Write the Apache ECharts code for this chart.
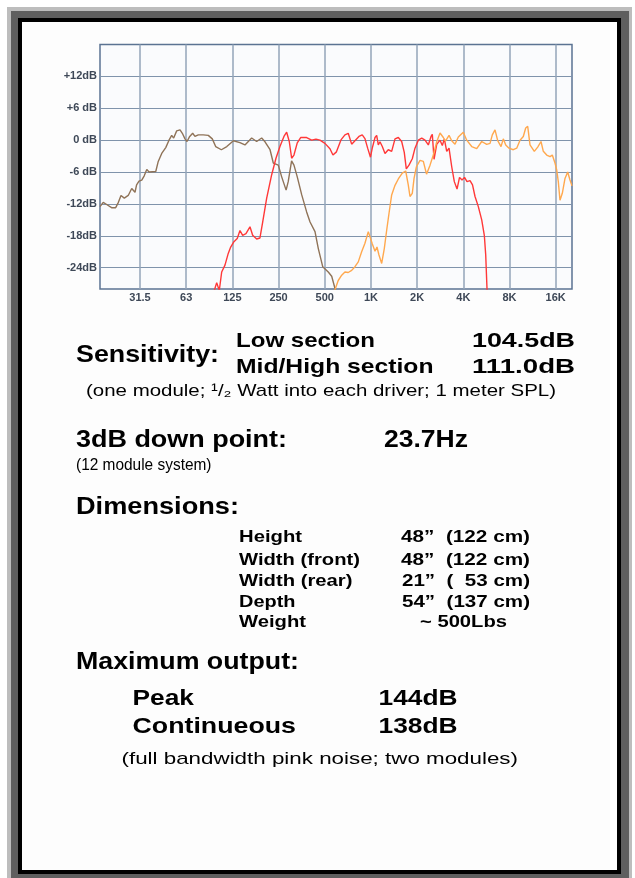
<!DOCTYPE html>
<html>
<head>
<meta charset="utf-8">
<script src="https://cdn.jsdelivr.net/npm/echarts@6/dist/echarts.min.js"></script>
<style>
html,body{margin:0;padding:0;background:#ffffff;}
#c{width:635px;height:878px;}
</style>
</head>
<body>
<div id="c"></div>
<script>
// ---------- chart data ----------
const freqTicks = [31.25, 62.5, 125, 250, 500, 1000, 2000, 4000, 8000, 16000];
const freqTickLabels = ['31.5', '63', '125', '250', '500', '1K', '2K', '4K', '8K', '16K'];
const dbTicks = [-24, -18, -12, -6, 0, 6, 12];
const dbTickLabels = ['-24dB', '-18dB', '-12dB', '-6 dB', '0 dB', '+6 dB', '+12dB'];

// Low section (brown)
const lowFreq = [17.15, 18.0, 18.95, 20.4, 21.7, 22.6, 23.5, 24.7, 26.2, 27.6, 29.0, 29.7, 30.8, 32.1, 33.3, 34.6, 35.8, 39.6, 41.1, 43.3, 46.0, 48.3, 50.3, 51.8, 54.2, 57.0, 59.0, 61.4, 63.3, 65.9, 68.9, 71.3, 75.0, 80.8, 87.1, 92.5, 97.3, 106, 115, 127, 140, 151, 167, 180, 194, 204, 220, 231, 249, 262, 280, 289, 304, 315, 331, 354, 381, 401, 432, 454, 485, 527, 555, 583, 600];
const lowDb = [-12.5, -11.7, -12.1, -12.7, -12.7, -11.7, -10.4, -10.9, -10.4, -9.1, -9.8, -8.4, -7.7, -7.5, -6.7, -5.5, -6.0, -5.9, -4.0, -2.5, -1.4, 0.0, 0.9, 0.4, 1.75, 1.95, 1.3, 0.25, -0.25, 0.7, 1.3, 0.7, 1.0, 1.0, 0.9, 0.25, -1.2, -1.8, -1.2, -0.1, -0.45, -0.9, 0.4, -0.25, 0.4, -0.3, -1.8, -4.3, -4.7, -6.9, -9.4, -7.8, -3.9, -4.7, -6.9, -10.3, -13.5, -15.4, -17.2, -20.4, -23.8, -24.8, -25.6, -27.9, -29.5];

// Mid section (red)
const midFreq = [94.8, 98.8, 102.7, 106.5, 111.9, 117.5, 121.9, 128.0, 134.5, 140.1, 145.9, 153.3, 162.8, 169.5, 180.0, 189.1, 197.0, 209.2, 225.5, 240.5, 255.3, 271.1, 282.3, 293.6, 304.3, 315.0, 331.0, 348.3, 381.1, 410.8, 438.2, 465.3, 501.5, 540.6, 565.5, 596.0, 637.6, 677.0, 711.4, 748.7, 795.0, 835.4, 877.7, 914.2, 952.0, 993, 1020, 1063, 1090, 1117, 1145, 1186, 1235, 1297, 1365, 1435, 1508, 1586, 1649, 1700, 1770, 1860, 1937, 2036, 2143, 2252, 2366, 2464, 2512, 2578, 2684, 2820, 2919, 3008, 3118, 3228, 3361, 3495, 3640, 3779, 3923, 4073, 4228, 4423, 4592, 4768, 5010, 5272, 5482, 5598, 5725];
const midDb = [-28.5, -26.8, -28.3, -24.8, -23.5, -21.3, -20.1, -19.1, -18.5, -17.0, -17.9, -17.6, -16.3, -17.9, -18.6, -18.4, -15.4, -10.9, -6.5, -3.4, -1.2, 0.7, 1.5, -0.25, -3.4, -2.8, -0.5, 0.5, 0.5, 0.0, 0.2, 0.0, -0.6, -1.6, -2.8, -2.2, 0.05, 1.0, 1.3, -0.75, 0.05, 0.7, 1.0, 0.3, -1.5, -3.2, -1.5, 0.5, 0.9, -0.9, -0.3, -1.2, -2.5, -1.8, -2.1, 0.25, 0.5, -0.25, -2.3, -5.4, -4.7, -3.5, -1.5, 0, 0.4, 0, -0.9, 0.7, 1.1, -3.6, -0.8, 0, -1.0, 0.25, -2.1, -1.5, -5.0, -7.8, -9.2, -7.0, -7.5, -7.0, -7.8, -7.6, -8.4, -10.6, -12.5, -15.0, -17.9, -21.6, -29];

// High section (orange)
const highFreq = [577, 612, 645, 677, 711, 749, 787, 827, 870, 914, 961, 978, 1020, 1063, 1095, 1128, 1175, 1222, 1267, 1311, 1365, 1435, 1508, 1601, 1685, 1751, 1797, 1860, 1910, 1979, 2089, 2195, 2303, 2427, 2550, 2684, 2820, 2963, 3060, 3228, 3361, 3531, 3711, 3807, 4000, 4209, 4537, 4891, 5272, 5683, 5972, 6181, 6436, 6702, 7043, 7290, 7558, 7940, 8470, 8913, 9365, 9840, 10200, 10512, 10881, 11606, 12214, 12834, 13285, 13980, 14691, 15206, 15832, 16241, 16637, 17066, 17667, 18397, 19157, 19827, 20434];
const highDb = [-28.5, -26.4, -25.4, -24.8, -24.9, -24.5, -23.8, -22.9, -21.0, -19.4, -17.2, -16.9, -19.5, -20.9, -20.1, -21.6, -23.2, -20.4, -16.9, -13.8, -10.3, -8.5, -7.3, -6.2, -5.8, -8.4, -10.6, -10.0, -7.2, -5.0, -3.8, -4.0, -6.4, -4.7, -2.8, -0.3, 1.35, 0.5, -0.2, 0.9, -0.1, -0.75, 0.6, 0.25, 1.5, 0.0, -1.2, -1.6, -0.25, -0.8, -0.6, 1.0, 1.95, -0.1, -1.2, 0.25, -0.9, -1.5, -1.8, -1.5, 0.0, 0.7, 2.3, 2.6, -0.9, -2.1, -1.3, -0.25, -2.1, -2.8, -3.1, -2.8, -4.3, -5.6, -7.8, -11.3, -10.0, -7.2, -6.0, -7.5, -8.6];

// ---------- spec sheet text ----------
const sensitivityTitle = 'Sensitivity:';
const sensitivityRows = [['Low section', '104.5dB'], ['Mid/High section', '111.0dB']];
const sensitivityNote = '(one module; \u00B9/\u2082 Watt into each driver; 1 meter SPL)';
const downPointTitle = '3dB down point:';
const downPointValue = '23.7Hz';
const downPointNote = '(12 module system)';
const dimensionsTitle = 'Dimensions:';
const dimensionRows = [['Height', '48\u201D  (122 cm)'], ['Width (front)', '48\u201D  (122 cm)'], ['Width (rear)', '21\u201D  (  53 cm)'], ['Depth', '54\u201D  (137 cm)'], ['Weight', '~ 500Lbs']];
const outputTitle = 'Maximum output:';
const outputRows = [['Peak', '144dB'], ['Continueous', '138dB']];
const outputNote = '(full bandwidth pink noise; two modules)';

// ---------- helpers ----------
const FAMILY = '"Liberation Sans", Arial, Helvetica, sans-serif';
const mctx = document.createElement('canvas').getContext('2d');
function fitText(str, x0, x1, cy, size, weight) {
  const font = weight + ' ' + size + 'px ' + FAMILY;
  mctx.font = font;
  const w = mctx.measureText(str).width;
  const sx = (x1 - x0) / w;
  return {
    type: 'text', x: x0, y: cy, scaleX: sx, scaleY: 1, originX: 0, originY: 0, z: 100,
    style: { text: str, font: font, fill: '#000000', align: 'left', verticalAlign: 'middle',
             textAlign: 'left', textVerticalAlign: 'middle' }
  };
}
function zip(a, b) { return a.map((v, i) => [v, b[i]]); }
function freqLabel(v) {
  let best = 0, bd = Infinity;
  freqTicks.forEach((t, i) => { const d = Math.abs(Math.log(v / t)); if (d < bd) { bd = d; best = i; } });
  return bd < 0.02 ? freqTickLabels[best] : '';
}
function dbLabel(v) {
  const i = dbTicks.findIndex(t => Math.abs(t - v) < 0.01);
  return i >= 0 ? dbTickLabels[i] : '';
}

// ---------- graphic: frame + texts ----------
const graphics = [
  { type: 'rect', z: -20, shape: { x: 7, y: 7, width: 625, height: 880 }, style: { fill: '#bdbdbd' } },
  { type: 'rect', z: -19, shape: { x: 11, y: 11, width: 618, height: 880 }, style: { fill: '#5f5f5f' } },
  { type: 'rect', z: -18, shape: { x: 18, y: 18, width: 603, height: 856 }, style: { fill: '#000000' } },
  { type: 'rect', z: -17, shape: { x: 22, y: 22, width: 595, height: 848 }, style: { fill: '#fdfdfd' } }
];
const T = [];
T.push(fitText(sensitivityTitle, 76, 219, 355, 24, 'bold'));
T.push(fitText(sensitivityRows[0][0], 236, 375, 341, 20.5, 'bold'));
T.push(fitText(sensitivityRows[0][1], 472, 575, 341, 20.5, 'bold'));
T.push(fitText(sensitivityRows[1][0], 236, 433.5, 367, 20.5, 'bold'));
T.push(fitText(sensitivityRows[1][1], 472, 575, 367, 20.5, 'bold'));
T.push(fitText(sensitivityNote, 86, 556, 391, 17, 'normal'));
T.push(fitText(downPointTitle, 76, 287, 440, 24, 'bold'));
T.push(fitText(downPointValue, 384, 468, 440, 24, 'bold'));
T.push(fitText(downPointNote, 76, 211.5, 465, 17, 'normal'));
T.push(fitText(dimensionsTitle, 76, 239, 508, 23, 'bold'));
const dimY = [537, 560, 581, 602, 622];
const dimLabelRight = [302, 360, 352.5, 295.5, 306];
const dimValueX = [[401, 530], [401, 530], [402, 530], [402, 530], [420, 507]];
dimensionRows.forEach((r, i) => {
  T.push(fitText(r[0], 239, dimLabelRight[i], dimY[i], 17, 'bold'));
  T.push(fitText(r[1], dimValueX[i][0], dimValueX[i][1], dimY[i], 17, 'bold'));
});
T.push(fitText(outputTitle, 76, 299, 663, 23, 'bold'));
const outY = [699, 727];
const outLabelRight = [194, 296];
outputRows.forEach((r, i) => {
  T.push(fitText(r[0], 132.5, outLabelRight[i], outY[i], 21.5, 'bold'));
  T.push(fitText(r[1], 378.5, 457.5, outY[i], 21.5, 'bold'));
});
T.push(fitText(outputNote, 121.5, 518, 759, 17, 'normal'));

// ---------- chart ----------
const chart = echarts.init(document.getElementById('c'), null, { renderer: 'canvas' });
const labelColor = '#3e4857';
const option = {
  animation: false,
  backgroundColor: 'transparent',
  graphic: { elements: graphics.concat(T) },
  grid: {
    left: 100, top: 44.5, width: 472, height: 244.5,
    show: true, backgroundColor: '#fafbfd', borderColor: '#5b7392', borderWidth: 1.5
  },
  xAxis: {
    type: 'log', logBase: 2, min: 17.15, max: 20434,
    axisLine: { show: false },
    axisTick: { show: false, customValues: freqTicks },
    axisLabel: { customValues: freqTicks, formatter: freqLabel, color: labelColor,
                 fontWeight: 'bold', fontSize: 11, fontFamily: FAMILY, margin: 3 },
    splitLine: { show: true, lineStyle: { color: '#93a4b8', width: 1.5 } },
    minorSplitLine: { show: false }
  },
  yAxis: {
    type: 'value', min: -28, max: 18,
    axisLine: { show: false },
    axisTick: { show: false, customValues: dbTicks },
    axisLabel: { customValues: dbTicks, formatter: dbLabel, color: labelColor,
                 fontWeight: 'bold', fontSize: 11, fontFamily: FAMILY, margin: 3 },
    splitLine: { show: true, lineStyle: { color: '#7f93ab', width: 1.2 } }
  },
  series: [
    { name: 'Low section', type: 'line', data: zip(lowFreq, lowDb), showSymbol: false,
      lineStyle: { color: '#8f7358', width: 1.4 }, itemStyle: { color: '#8f7358' }, clip: true, z: 3 },
    { name: 'Mid section', type: 'line', data: zip(midFreq, midDb), showSymbol: false,
      lineStyle: { color: '#ff3838', width: 1.4 }, itemStyle: { color: '#ff3838' }, clip: true, z: 4 },
    { name: 'High section', type: 'line', data: zip(highFreq, highDb), showSymbol: false,
      lineStyle: { color: '#ffa84e', width: 1.4 }, itemStyle: { color: '#ffa84e' }, clip: true, z: 5 }
  ]
};
chart.setOption(option);
</script>
</body>
</html>
